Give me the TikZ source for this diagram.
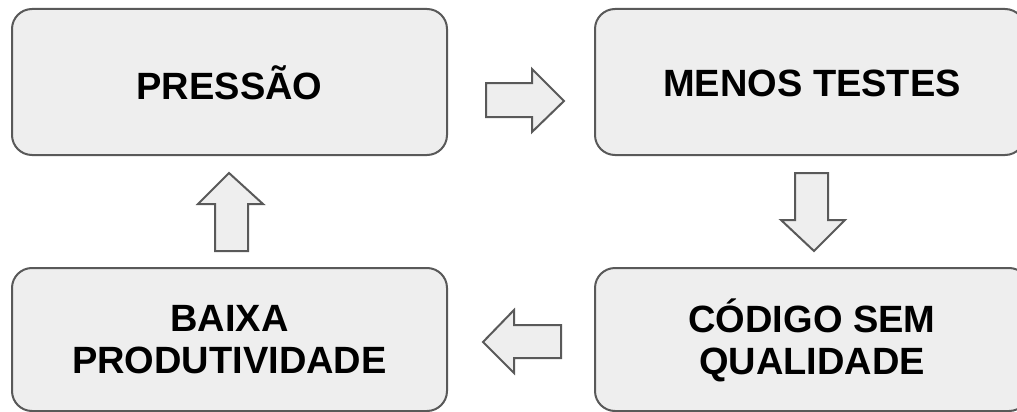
\documentclass[tikz,border=0pt]{standalone}
\usepackage{fontspec}
\setmainfont{Liberation Sans}
\definecolor{boxfill}{HTML}{EEEEEE}
\definecolor{boxline}{HTML}{595959}
\tikzset{
  stagebox/.style={draw=boxline, fill=boxfill, line width=2pt, rounded corners=20pt},
  stagetext/.style={inner sep=0pt, align=center, font=\fontsize{38}{42}\selectfont\bfseries},
  blockarrow/.style={draw=boxline, fill=boxfill, line width=2pt, line join=miter}
}
\begin{document}
\begin{tikzpicture}[x=1pt,y=-1pt]
\useasboundingbox (0,0) rectangle (1017,412);
\clip (0,0) rectangle (1017,412);
% boxes
\path[stagebox] (12,9) rectangle (447,155);
\node[stagetext] (pressao) at (229.5,83) {PRESSÃO};
\path[stagebox] (595,9) rectangle (1025,155);
\node[stagetext] (menos) at (812,83) {MENOS TESTES};
\path[stagebox] (595,268) rectangle (1029,411);
\node[stagetext] (codigo) at (812,340) {CÓDIGO SEM\\QUALIDADE};
\path[stagebox] (12,268) rectangle (447,411);
\node[stagetext] (baixa) at (229.5,340) {BAIXA\\PRODUTIVIDADE};
% block arrows
\draw[blockarrow] (486,83) -- (532,83) -- (532,69) -- (564,101) -- (532,132) -- (532,117) -- (486,117) -- cycle;
\draw[blockarrow] (795,173) -- (828,173) -- (828,220) -- (845,220) -- (814,251) -- (781,220) -- (795,220) -- cycle;
\draw[blockarrow] (561,325) -- (514,325) -- (514,310) -- (483,342) -- (514,373) -- (514,358) -- (561,358) -- cycle;
\draw[blockarrow] (215,251) -- (215,204) -- (198,204) -- (229,173) -- (263,204) -- (248,204) -- (248,251) -- cycle;
\end{tikzpicture}
\end{document}
